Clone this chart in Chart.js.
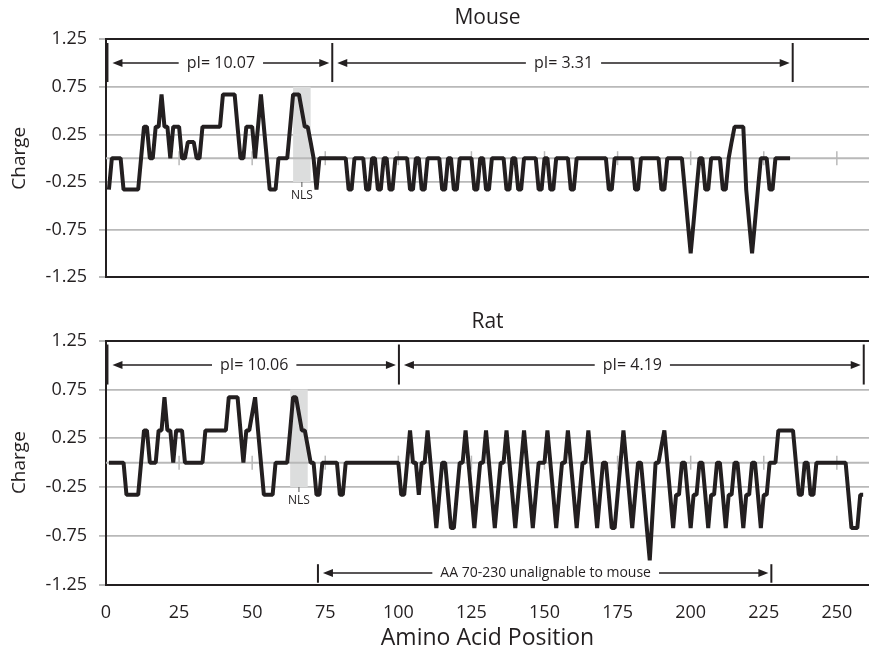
<!DOCTYPE html>
<html>
<head>
<meta charset="utf-8">
<script src="https://cdn.jsdelivr.net/npm/chart.js@4.4.1/dist/chart.umd.min.js"></script>
<style>
  html, body { margin: 0; padding: 0; background: #fff; }
  #wrap { position: relative; width: 871px; height: 656px; }
  .panel { position: absolute; left: 0; }
</style>
</head>
<body>
<div id="wrap">
  <div class="panel" style="top:0"><canvas id="mouseChart" width="871" height="300"></canvas></div>
  <div class="panel" style="top:300px"><canvas id="ratChart" width="871" height="356"></canvas></div>
</div>
<script>
// charge per residue (sliding window), residue 1..N
const mouseCharge = [
  -0.33, 0, 0, 0, 0, -0.33, -0.33, -0.33, -0.33, -0.33,
  -0.33, 0, 0.33, 0.33, 0, 0, 0.33, 0.33, 0.67, 0.33,
  0.33, 0, 0.33, 0.33, 0.33, 0, 0, 0.17, 0.17, 0.17,
  0, 0, 0.33, 0.33, 0.33, 0.33, 0.33, 0.33, 0.33, 0.67,
  0.67, 0.67, 0.67, 0.67, 0.33, 0, 0, 0.33, 0.33, 0.33,
  0, 0.33, 0.67, 0.33, 0, -0.33, -0.33, -0.33, 0, 0,
  0, 0, 0.33, 0.67, 0.67, 0.67, 0.5, 0.33, 0.33, 0.17,
  0, -0.33, 0, 0, 0, 0, 0, 0, 0, 0,
  0, 0, -0.33, -0.33, 0, 0, 0, 0, -0.33, -0.33,
  0, 0, -0.33, -0.33, 0, 0, -0.33, -0.33, 0, 0,
  0, 0, 0, -0.33, -0.33, 0, 0, -0.33, -0.33, 0,
  0, 0, 0, 0, -0.33, -0.33, 0, 0, -0.33, -0.33,
  0, 0, 0, 0, 0, -0.33, -0.33, 0, 0, -0.33,
  -0.33, 0, 0, 0, 0, 0, -0.33, -0.33, 0, 0,
  -0.33, -0.33, 0, 0, 0, 0, 0, -0.33, -0.33, 0,
  0, -0.33, -0.33, 0, 0, 0, 0, 0, -0.33, -0.33,
  0, 0, 0, 0, 0, 0, 0, 0, 0, 0,
  0, -0.33, -0.33, 0, 0, 0, 0, 0, 0, 0,
  -0.33, -0.33, 0, 0, 0, 0, 0, 0, 0, -0.33,
  -0.33, 0, 0, 0, 0, 0, 0, -0.33, -0.67, -1,
  -0.67, -0.33, 0, 0, -0.33, -0.33, 0, 0, 0, 0,
  -0.33, -0.33, 0, 0.17, 0.33, 0.33, 0.33, 0.33, -0.33, -0.67,
  -1, -0.67, -0.33, 0, 0, 0, -0.33, -0.33, 0, 0,
  0, 0, 0, 0
];
const ratCharge = [
  0, 0, 0, 0, 0, 0, -0.33, -0.33, -0.33, -0.33,
  -0.33, 0, 0.33, 0.33, 0, 0, 0, 0.33, 0.33, 0.67,
  0.33, 0.33, 0, 0.33, 0.33, 0.33, 0, 0, 0, 0,
  0, 0, 0, 0.33, 0.33, 0.33, 0.33, 0.33, 0.33, 0.33,
  0.33, 0.67, 0.67, 0.67, 0.67, 0.33, 0, 0.33, 0.33, 0.5,
  0.67, 0.33, 0, -0.33, -0.33, -0.33, -0.33, 0, 0, 0,
  0, 0, 0.33, 0.67, 0.67, 0.5, 0.33, 0.33, 0.17, 0,
  0, -0.33, -0.33, 0, 0, 0, 0, 0, 0, -0.33,
  -0.33, 0, 0, 0, 0, 0, 0, 0, 0, 0,
  0, 0, 0, 0, 0, 0, 0, 0, 0, 0,
  -0.33, -0.33, 0, 0.33, 0, 0, -0.33, 0, 0, 0.33,
  0, -0.33, -0.67, -0.33, 0, 0, -0.33, -0.67, -0.67, -0.33,
  0, 0, 0.33, 0, -0.33, -0.67, -0.33, 0, 0, 0.33,
  0, -0.33, -0.67, -0.33, 0, 0, 0.33, 0, -0.33, -0.67,
  -0.33, 0, 0.33, 0, -0.33, -0.67, -0.33, 0, 0, 0,
  0.33, 0, -0.33, -0.67, -0.33, 0, 0, 0.33, 0, -0.33,
  -0.67, -0.33, 0, 0, 0.33, 0, -0.33, -0.67, -0.33, 0,
  0, -0.33, -0.67, -0.67, -0.33, 0, 0.33, 0, -0.33, -0.67,
  -0.33, 0, 0, -0.33, -0.67, -1, -0.5, 0, 0, 0.17,
  0.33, 0, -0.33, -0.67, -0.33, -0.33, 0, 0, -0.33, -0.67,
  -0.33, -0.33, 0, 0, -0.33, -0.67, -0.33, -0.33, 0, 0,
  -0.33, -0.67, -0.33, -0.33, 0, 0, -0.33, -0.67, -0.33, -0.33,
  0, 0, -0.33, -0.67, -0.33, -0.33, 0, 0, 0, 0.33,
  0.33, 0.33, 0.33, 0.33, 0.33, 0, -0.33, -0.33, 0, 0,
  -0.33, -0.33, 0, 0, 0, 0, 0, 0, 0, 0,
  0, 0, 0, -0.33, -0.67, -0.67, -0.67, -0.33, -0.33
];

const xTicks = [0, 25, 50, 75, 100, 125, 150, 175, 200, 225, 250];
const yTicks = [-1.25, -0.75, -0.25, 0.25, 0.75, 1.25];

// pI brackets (residue positions of the bars) and their labels
const mouseBreaks = [0.5, 77.4, 234.9];
const mouseLabels = ['pI= 10.07', 'pI= 3.31'];
const ratBreaks = [0.5, 100.2, 259.2];
const ratLabels = ['pI= 10.06', 'pI= 4.19'];
const mouseNLS = [64, 70];
const ratNLS = [63, 69];
const ratUnaligned = [72.5, 227.6];
const ratUnalignedLabel = 'AA 70-230 unalignable to mouse';

const INK = '#231f20';
const GRID = '#b9b9b9';
const FONT = '"Open Sans", "Noto Sans", sans-serif';

Chart.defaults.font.family = FONT;
Chart.defaults.color = INK;

function bars(ctx, x, y, list, hi, lo) {
  ctx.strokeStyle = INK;
  ctx.lineWidth = 2;
  list.forEach(v => {
    const px = x.getPixelForValue(v);
    ctx.beginPath();
    ctx.moveTo(px, y.getPixelForValue(hi));
    ctx.lineTo(px, y.getPixelForValue(lo));
    ctx.stroke();
  });
}

function arrowPair(ctx, x, y, from, to, label, val, font) {
  const xa = x.getPixelForValue(from) + 5;
  const xb = x.getPixelForValue(to) - 3;
  const ya = y.getPixelForValue(val);
  ctx.font = font;
  const tw = ctx.measureText(label).width;
  const xm = (xa + xb) / 2;
  ctx.strokeStyle = INK;
  ctx.fillStyle = INK;
  ctx.lineWidth = 1.3;
  ctx.beginPath();
  ctx.moveTo(xa + 6, ya); ctx.lineTo(xm - tw / 2 - 8, ya);
  ctx.moveTo(xm + tw / 2 + 8, ya); ctx.lineTo(xb - 6, ya);
  ctx.stroke();
  ctx.beginPath();
  ctx.moveTo(xa, ya); ctx.lineTo(xa + 10, ya - 4); ctx.lineTo(xa + 10, ya + 4); ctx.closePath();
  ctx.moveTo(xb, ya); ctx.lineTo(xb - 10, ya - 4); ctx.lineTo(xb - 10, ya + 4); ctx.closePath();
  ctx.fill();
  ctx.textAlign = 'center';
  ctx.textBaseline = 'middle';
  ctx.fillText(label, xm, ya);
}

const decor = {
  id: 'decor',
  beforeDatasetsDraw(chart, args, o) {
    const {ctx, chartArea: a, scales: {x, y}} = chart;
    ctx.save();
    // NLS shading
    const nx0 = x.getPixelForValue(o.nls[0]), nx1 = x.getPixelForValue(o.nls[1]);
    const ny0 = y.getPixelForValue(0.75), ny1 = y.getPixelForValue(-0.25);
    ctx.fillStyle = '#dcdddd';
    ctx.fillRect(nx0, ny0, nx1 - nx0, ny1 - ny0);
    // zero line with small ticks
    const y0 = y.getPixelForValue(0);
    ctx.strokeStyle = GRID;
    ctx.lineWidth = 2;
    ctx.beginPath(); ctx.moveTo(a.left, y0); ctx.lineTo(a.right, y0); ctx.stroke();
    ctx.lineWidth = 1.5;
    xTicks.forEach(v => {
      if (!v) return;
      const px = x.getPixelForValue(v);
      ctx.beginPath(); ctx.moveTo(px, y0 - 7); ctx.lineTo(px, y0 + 7); ctx.stroke();
    });
    ctx.restore();
  },
  afterDatasetsDraw(chart, args, o) {
    const {ctx, scales: {x, y}} = chart;
    ctx.save();
    // NLS tick + label
    const nc = x.getPixelForValue((o.nls[0] + o.nls[1]) / 2);
    const nb = y.getPixelForValue(-0.25);
    ctx.strokeStyle = '#555'; ctx.lineWidth = 1;
    ctx.beginPath(); ctx.moveTo(nc, nb); ctx.lineTo(nc, nb + 5); ctx.stroke();
    ctx.fillStyle = INK;
    ctx.font = '12px ' + FONT;
    ctx.textAlign = 'center'; ctx.textBaseline = 'middle';
    ctx.fillText('NLS', nc, nb + 14);
    // pI brackets
    bars(ctx, x, y, o.breaks, 1.21, 0.8);
    for (let i = 0; i < o.labels.length; i++) {
      arrowPair(ctx, x, y, o.breaks[i], o.breaks[i + 1], o.labels[i], 1.0, '16px ' + FONT);
    }
    // unalignable region
    if (o.span) {
      bars(ctx, x, y, o.span, -1.04, -1.23);
      arrowPair(ctx, x, y, o.span[0], o.span[1], o.spanLabel, -1.13, '14px ' + FONT);
    }
    ctx.restore();
  }
};

function makeChart(id, name, charge, deco, showX, titlePad) {
  return new Chart(document.getElementById(id), {
    type: 'line',
    data: {
      datasets: [{
        data: charge.map((c, i) => ({x: i + 1, y: c})),
        borderColor: INK,
        borderWidth: 4,
        borderJoinStyle: 'bevel',
        pointRadius: 0,
        tension: 0,
        fill: false
      }]
    },
    options: {
      responsive: false,
      animation: false,
      layout: {padding: {left: 0, right: 2, top: 0, bottom: showX ? 0 : 16.7}},
      plugins: {
        legend: {display: false},
        tooltip: {enabled: false},
        title: {
          display: true, text: name, fullSize: false,
          font: {size: 21, weight: 'normal'}, color: INK, padding: titlePad
        },
        decor: deco
      },
      scales: {
        x: {
          type: 'linear', min: 0, max: 261,
          display: showX,
          afterBuildTicks: s => { s.ticks = xTicks.map(v => ({value: v})); },
          afterFit: s => { s.height = showX ? 71.3 : 0; },
          ticks: {font: {size: 18}, padding: 17, maxRotation: 0, autoSkip: false, color: INK},
          grid: {display: false, drawTicks: false},
          border: {display: false},
          title: {display: true, text: 'Amino Acid Position', font: {size: 23}, color: INK, padding: {top: 0, bottom: 4}}
        },
        y: {
          min: -1.25, max: 1.25,
          afterBuildTicks: s => { s.ticks = yTicks.map(v => ({value: v})); },
          afterFit: s => { s.width = 106; },
          ticks: {callback: v => v.toFixed(2), padding: 12, font: {size: 18}, color: INK},
          grid: {
            color: c => (c.tick && Math.abs(c.tick.value) === 1.25) ? INK : GRID,
            lineWidth: c => (c.tick && Math.abs(c.tick.value) === 1.25) ? 2 : 1.8,
            tickColor: GRID, tickLength: 7
          },
          border: {color: INK, width: 2},
          title: {display: true, text: 'Charge', font: {size: 19}, color: INK, padding: {top: 8, bottom: 0}}
        }
      }
    },
    plugins: [decor]
  });
}

makeChart('mouseChart', 'Mouse', mouseCharge,
  {nls: mouseNLS, breaks: mouseBreaks, labels: mouseLabels},
  false, {top: 5, bottom: 9});
makeChart('ratChart', 'Rat', ratCharge,
  {nls: ratNLS, breaks: ratBreaks, labels: ratLabels, span: ratUnaligned, spanLabel: ratUnalignedLabel},
  true, {top: 9.4, bottom: 6});
</script>
</body>
</html>
